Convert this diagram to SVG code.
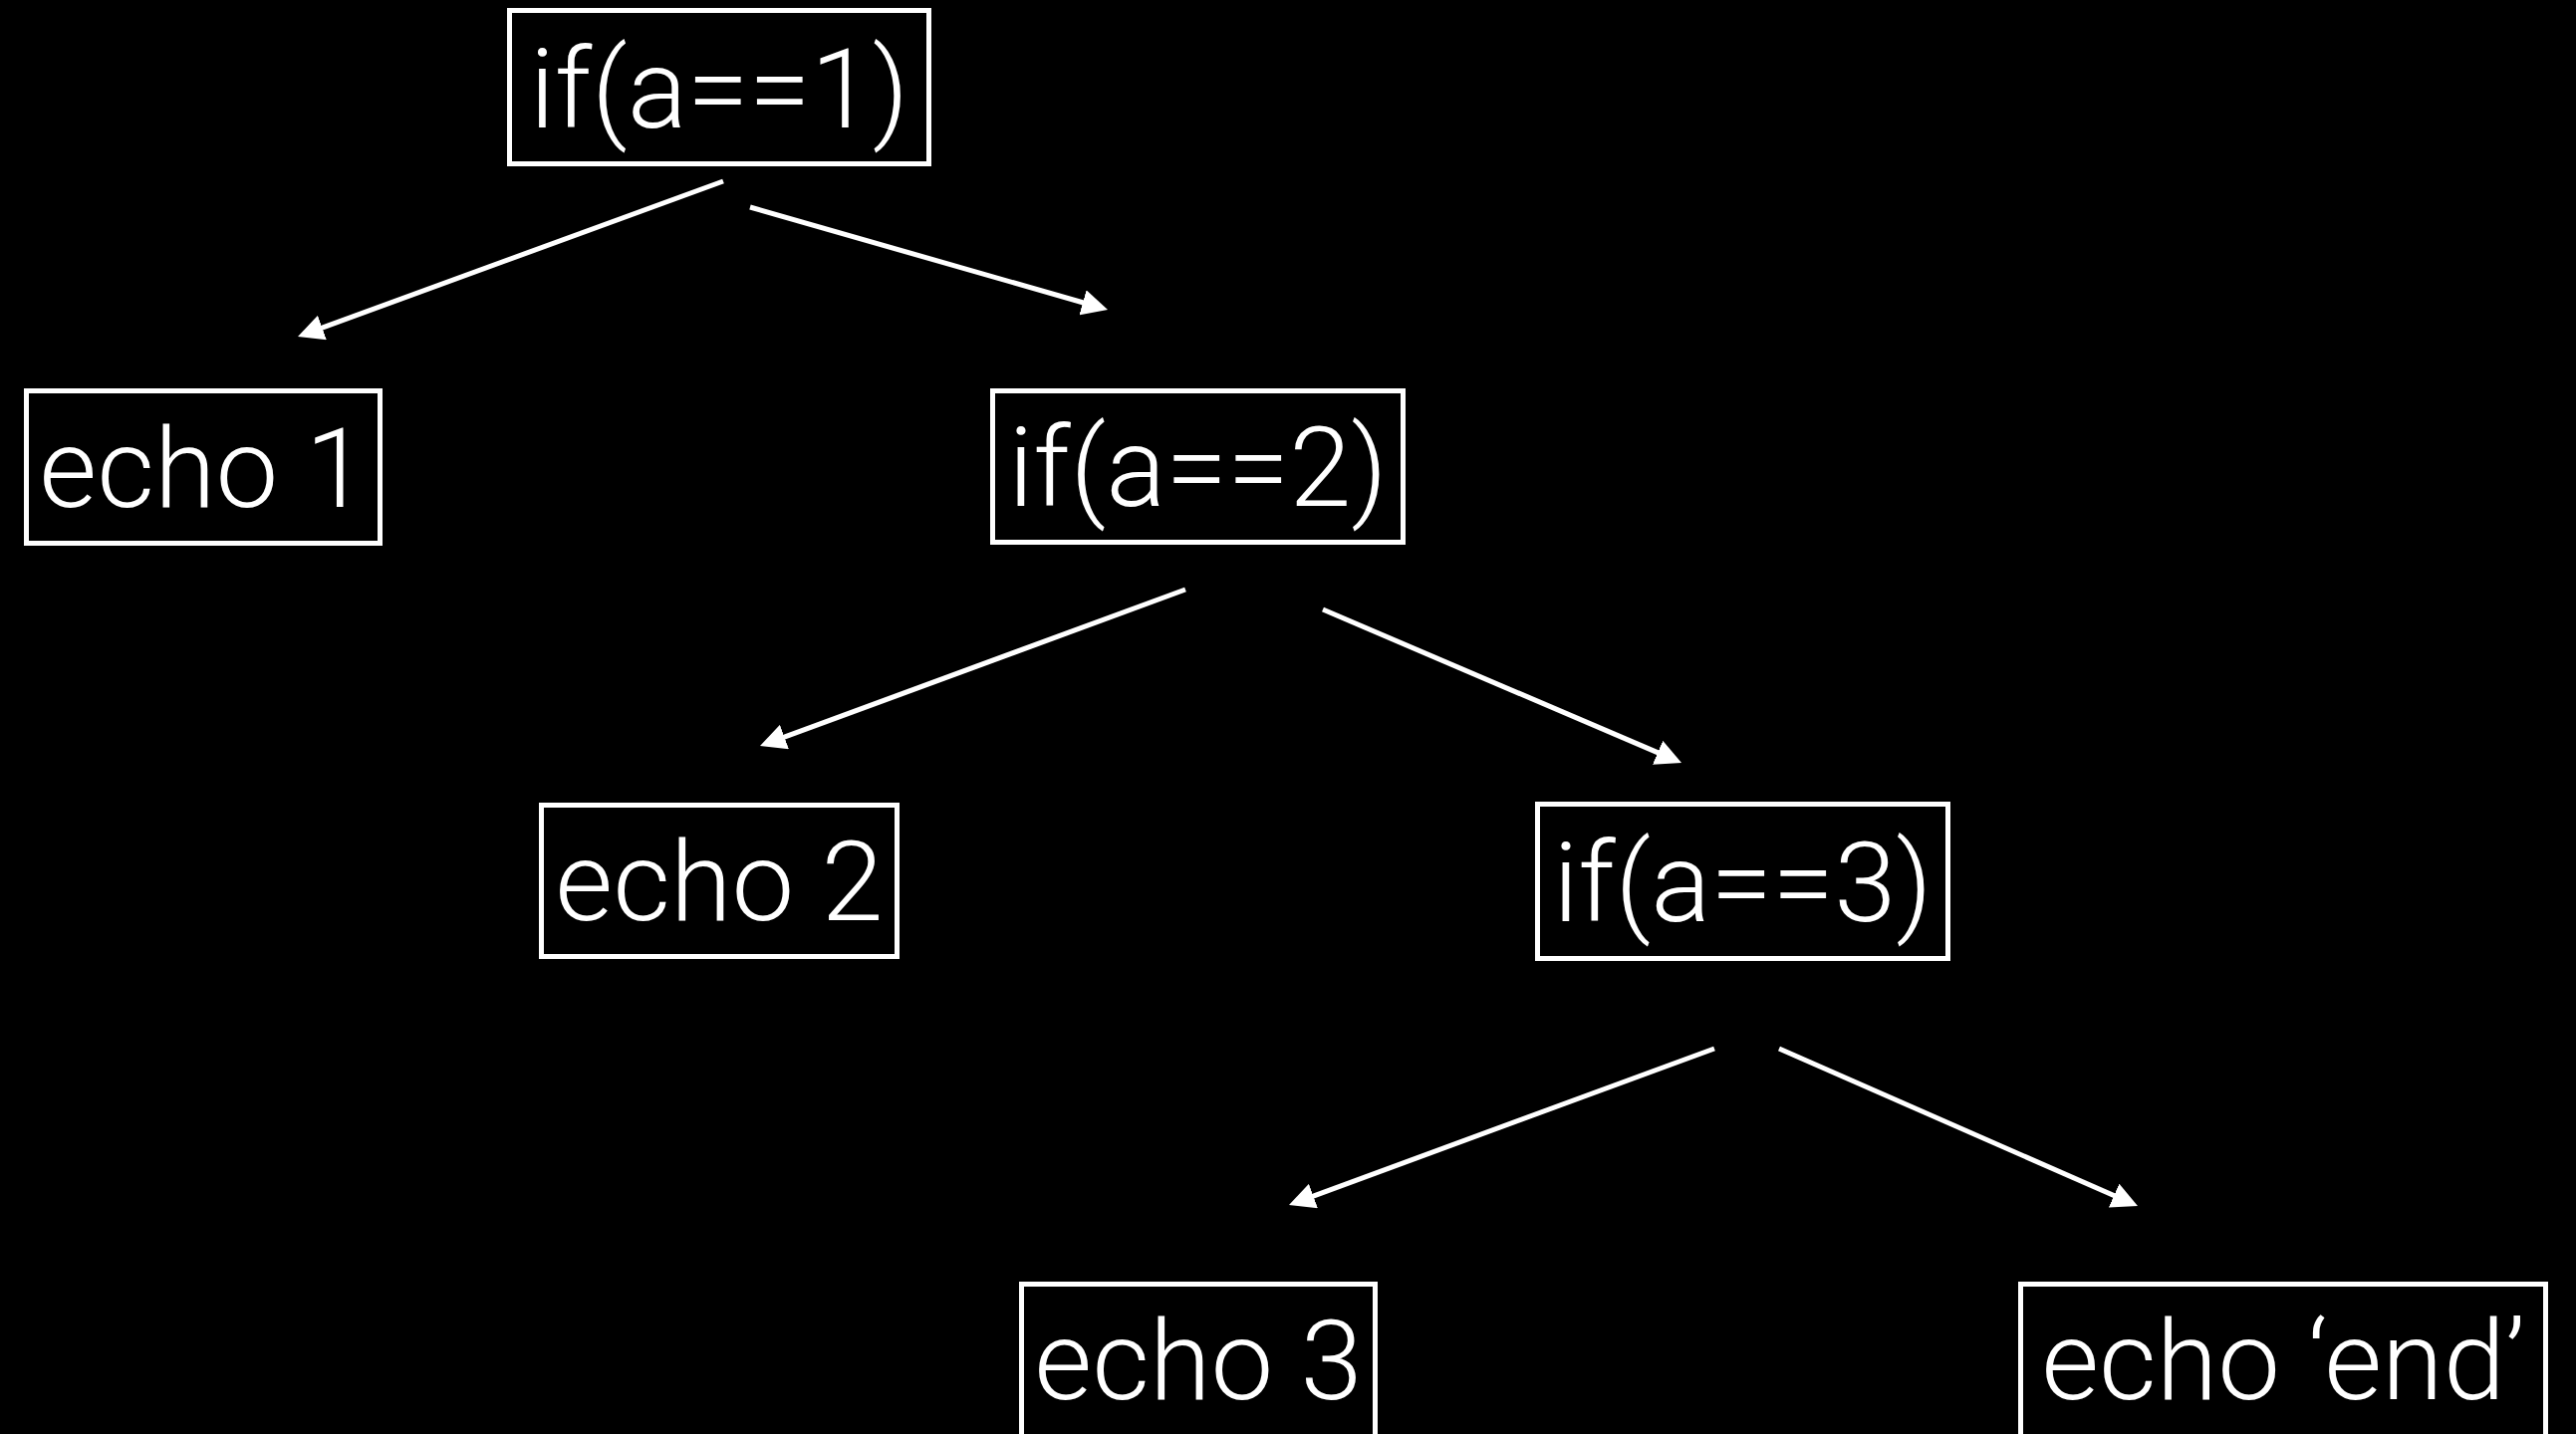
<svg xmlns="http://www.w3.org/2000/svg" width="2586" height="1440" viewBox="0 0 2586 1440">
<style>
.box{fill:#000;stroke:#fff;stroke-width:5}
.lbl{fill:#fff;font-family:Roboto,"Liberation Sans",sans-serif;font-weight:300;font-size:112px;text-anchor:middle}
.edge{stroke:#fff;stroke-width:5;fill:none;marker-end:url(#ah)}
</style>
<defs>
<marker id="ah" markerUnits="userSpaceOnUse" markerWidth="26" markerHeight="26" viewBox="0 0 26 26" refX="8" refY="13" orient="auto">
<path d="M0,0 L26,13 L0,26 z" fill="#fff"/>
</marker>
</defs>
<rect width="2586" height="1440" fill="#000"/>
<g id="edges">
<line class="edge" x1="726" y1="182" x2="315.9" y2="331.8"/>
<line class="edge" x1="753" y1="208" x2="1094.7" y2="306"/>
<line class="edge" x1="1190" y1="592" x2="779.9" y2="742.8"/>
<line class="edge" x1="1328" y1="612" x2="1671.5" y2="758.9"/>
<line class="edge" x1="1721" y1="1053" x2="1310.9" y2="1203.8"/>
<line class="edge" x1="1786" y1="1053" x2="2129.5" y2="1203.8"/>
</g>
<g id="n_if1"><rect class="box" x="511.5" y="10.5" width="421" height="154"/><text class="lbl" x="722" y="128">if(a==1)</text></g>
<g id="n_echo1"><rect class="box" x="26.5" y="392.5" width="355" height="153"/><text class="lbl" x="204" y="509">echo 1</text></g>
<g id="n_if2"><rect class="box" x="996.5" y="392.5" width="412" height="152"/><text class="lbl" x="1202.5" y="508">if(a==2)</text></g>
<g id="n_echo2"><rect class="box" x="543.5" y="808.5" width="357" height="152"/><text class="lbl" x="722" y="924">echo 2</text></g>
<g id="n_if3"><rect class="box" x="1543.5" y="807.5" width="412" height="155"/><text class="lbl" x="1749.5" y="925">if(a==3)</text></g>
<g id="n_echo3"><rect class="box" x="1025.5" y="1289.5" width="355" height="160"/><text class="lbl" x="1203" y="1405">echo 3</text></g>
<g id="n_end"><rect class="box" x="2028.5" y="1289.5" width="527" height="160"/><text class="lbl" x="2292" y="1405">echo ‘end’</text></g>
</svg>
